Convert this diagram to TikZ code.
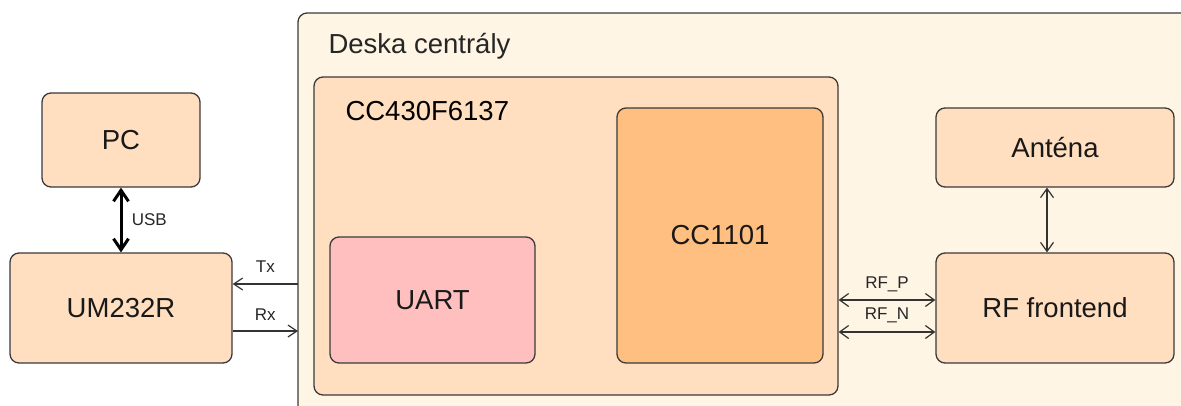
\documentclass[tikz,border=0pt]{standalone}
\usepackage{fontspec}
\setmainfont{Liberation Sans}
\usetikzlibrary{arrows.meta}

\definecolor{krem}{HTML}{FFF5E4}
\definecolor{broskev}{HTML}{FFDFBF}
\definecolor{ruzova}{HTML}{FFBFBF}
\definecolor{oranzova}{HTML}{FFBF80}
\definecolor{obrys}{HTML}{3A3A3A}

\begin{document}
\begin{tikzpicture}[x=1pt,y=-1pt,
  blok/.style={draw=obrys,line width=1.3pt,rounded corners=9pt,fill=broskev,
    font=\fontsize{27.5}{31}\selectfont,text=black!90},
  popis/.style={font=\fontsize{17}{20}\selectfont,text=black!85},
  sip/.style={draw=black!80,line width=1.2pt,
    {Straight Barb[length=9pt,width=13pt]}-{Straight Barb[length=9pt,width=13pt]}},
  tx/.style={draw=black!80,line width=1.2pt,-{Straight Barb[length=9pt,width=12pt]}}]
 \useasboundingbox (0,0) rectangle (1181,405);
 \clip (0,0) rectangle (1181,405);
 % deska centraly
 \draw[draw=obrys,line width=1.3pt,rounded corners=9pt,fill=krem]
  (298,13) rectangle (1230,440);
 \node[anchor=west,font=\fontsize{27.5}{31}\selectfont,text=black!85]
  (deska) at (325,46) {Deska centrály};
 \foreach \n/\x/\y/\w/\h/\b/\t in
  {
    pc/121/140/158/94/broskev/PC, um/121/308/222/110/broskev/UM232R,
    cc430/576/236/524/318/broskev/{},
    uart/432.5/300/205/126/ruzova/UART, cc1101/720/235.5/206/255/oranzova/CC1101,
    ant/1055/147.5/238/79/broskev/Anténa, rf/1055/308/238/110/broskev/RF frontend
  }
  {
    \node[blok,fill=\b,minimum width=\w pt,minimum height=\h pt]
     (\n) at (\x,\y) {\t};
  }
 \node[anchor=west,font=\fontsize{27.5}{31}\selectfont] (cclbl) at (342,111) {CC430F6137};
 % spoje
 \draw[line width=3pt,
   {Straight Barb[length=11pt,width=15pt]}-{Straight Barb[length=11pt,width=15pt]}]
  (pc) -- (um) node[midway,right=6pt,popis] {USB};
 \coordinate (txk) at (298,284);
 \coordinate (rxk) at (298,331);
 \draw[tx] (txk) -- (txk -| um.east) node[midway,above=8pt,popis] {Tx};
 \draw[tx] (rxk -| um.east) -- (rxk) node[midway,above=7pt,popis] {Rx};
 \coordinate (rfp) at (886,300);
 \coordinate (rfn) at (886,332);
 \draw[sip] (rfp -| cc430.east) -- (rfp -| rf.west) node[midway,above=4pt,popis] {RF\_P};
 \draw[sip] (rfn -| cc430.east) -- (rfn -| rf.west) node[midway,above=5pt,popis] {RF\_N};
 \coordinate (ar) at (1047,0);
 \draw[sip] (ant.south -| ar) -- (rf.north -| ar);
\end{tikzpicture}
\end{document}
